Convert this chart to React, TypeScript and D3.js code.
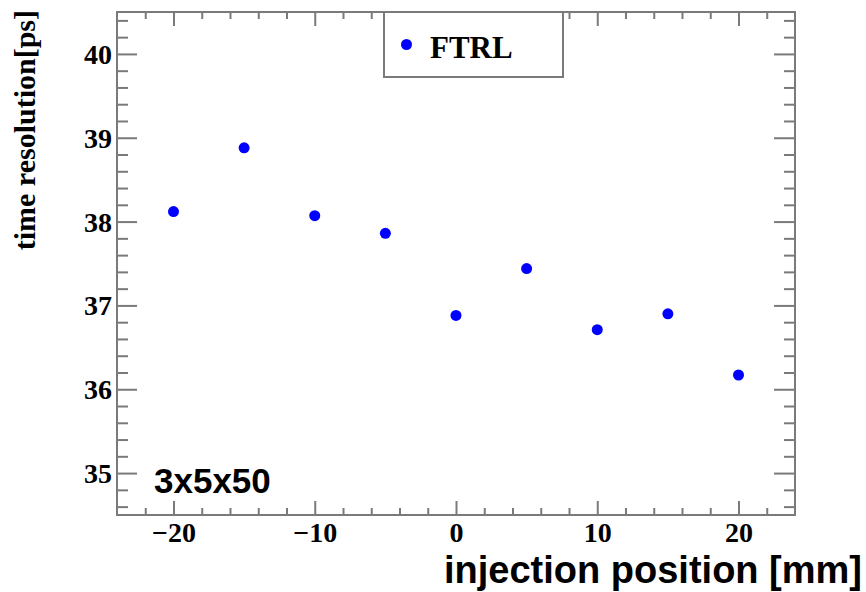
import React, { useEffect, useRef } from "react";
import * as d3 from "d3";

const positions = [-20, -15, -10, -5, 0, 5, 10, 15, 20];
const resolution = [38.12, 38.88, 38.07, 37.86, 36.88, 37.44, 36.71, 36.9, 36.17];
const xMajor = [-20, -10, 0, 10, 20];
const yMajor = [35, 36, 37, 38, 39, 40];
const seriesName = "FTRL";
const sampleLabel = "3x5x50";

const W = 866;
const H = 592;
const margin = { left: 117, top: 12, right: 71, bottom: 77 };
const frameCol = "#7a7a7a";
const serif = "'Liberation Serif', 'Times New Roman', serif";
const sans = "'Liberation Sans', Arial, sans-serif";

const App = () => {
  const svgRef = useRef<SVGSVGElement>(null);

  useEffect(() => {
    const svg = d3.select(svgRef.current);
    svg.selectAll("*").remove();

    const x = d3.scaleLinear().domain([-24, 24]).range([margin.left, W - margin.right]);
    const y = d3.scaleLinear().domain([34.5, 40.5]).range([H - margin.bottom, margin.top]);

    const xMinor = d3.range(-22, 23, 2).filter((v) => !xMajor.includes(v));
    const yMinor = d3.range(34.6, 40.45, 0.2).map((v) => +v.toFixed(1)).filter((v) => !yMajor.includes(v));

    const styleTicks = (g) => {
      g.select(".domain").remove();
      g.selectAll("line").attr("stroke", frameCol).attr("stroke-width", 2);
    };

    // bottom axis
    svg.append("g").attr("transform", `translate(0,${H - margin.bottom})`)
      .call(d3.axisBottom(x).tickValues(xMinor).tickSizeInner(-7).tickSizeOuter(0).tickFormat(() => ""))
      .call(styleTicks);
    const xb = svg.append("g").attr("transform", `translate(0,${H - margin.bottom})`)
      .call(d3.axisBottom(x).tickValues(xMajor).tickSizeInner(-14).tickSizeOuter(0).tickPadding(0))
      .call(styleTicks);
    xb.selectAll("text")
      .attr("y", 27)
      .attr("dy", 0)
      .attr("fill", "#000")
      .style("font", `bold 28px ${serif}`);

    // top axis
    svg.append("g").attr("transform", `translate(0,${margin.top})`)
      .call(d3.axisTop(x).tickValues(xMinor).tickSizeInner(-7).tickSizeOuter(0).tickFormat(() => ""))
      .call(styleTicks);
    svg.append("g").attr("transform", `translate(0,${margin.top})`)
      .call(d3.axisTop(x).tickValues(xMajor).tickSizeInner(-14).tickSizeOuter(0).tickFormat(() => ""))
      .call(styleTicks);

    // left axis
    svg.append("g").attr("transform", `translate(${margin.left},0)`)
      .call(d3.axisLeft(y).tickValues(yMinor).tickSizeInner(-11).tickSizeOuter(0).tickFormat(() => ""))
      .call(styleTicks);
    const yl = svg.append("g").attr("transform", `translate(${margin.left},0)`)
      .call(d3.axisLeft(y).tickValues(yMajor).tickSizeInner(-20).tickSizeOuter(0).tickPadding(0).tickFormat(d3.format("d")))
      .call(styleTicks);
    yl.selectAll("text")
      .attr("x", -5)
      .attr("dy", "0.34em")
      .attr("fill", "#000")
      .style("font", `bold 28px ${serif}`);

    // right axis
    svg.append("g").attr("transform", `translate(${W - margin.right},0)`)
      .call(d3.axisRight(y).tickValues(yMinor).tickSizeInner(-11).tickSizeOuter(0).tickFormat(() => ""))
      .call(styleTicks);
    svg.append("g").attr("transform", `translate(${W - margin.right},0)`)
      .call(d3.axisRight(y).tickValues(yMajor).tickSizeInner(-21).tickSizeOuter(0).tickFormat(() => ""))
      .call(styleTicks);

    // frame
    svg.append("rect")
      .attr("x", margin.left)
      .attr("y", margin.top)
      .attr("width", W - margin.left - margin.right)
      .attr("height", H - margin.top - margin.bottom)
      .attr("fill", "none")
      .attr("stroke", frameCol)
      .attr("stroke-width", 2);

    // points
    svg.append("g").selectAll("circle")
      .data(positions.map((p, i) => ({ p, v: resolution[i] })))
      .join("circle")
      .attr("cx", (d) => x(d.p))
      .attr("cy", (d) => y(d.v))
      .attr("r", 5.5)
      .attr("fill", "#0000ff");

    // legend
    const lg = svg.append("g");
    lg.append("rect")
      .attr("x", 384).attr("y", 12).attr("width", 179).attr("height", 65)
      .attr("fill", "#fff").attr("stroke", frameCol).attr("stroke-width", 2);
    lg.append("circle").attr("cx", 406.5).attr("cy", 44.5).attr("r", 5.5).attr("fill", "#0000ff");
    lg.append("text")
      .attr("x", 430).attr("y", 58)
      .style("font", `bold 31px ${serif}`)
      .text(seriesName);

    // labels
    svg.append("text")
      .attr("transform", "translate(35,10) rotate(-90)")
      .attr("text-anchor", "end")
      .style("font", `bold 30px ${serif}`)
      .text("time resolution[ps]");

    svg.append("text")
      .attr("x", 862).attr("y", 583)
      .attr("text-anchor", "end")
      .style("font", `bold 38px ${sans}`)
      .text("injection position [mm]");

    svg.append("text")
      .attr("x", 154).attr("y", 493)
      .style("font", `bold 35px ${sans}`)
      .text(sampleLabel);
  }, []);

  return (
    <div style={{ position: "fixed", left: 0, top: 0 }}>
      <svg ref={svgRef} width={W} height={H} style={{ display: "block", background: "#fff" }} />
    </div>
  );
};

export default App;
